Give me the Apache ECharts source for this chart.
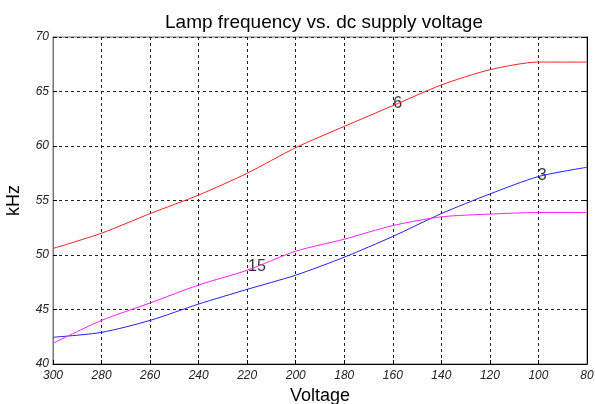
<!DOCTYPE html>
<html>
<head>
<meta charset="utf-8">
<script src="https://cdn.jsdelivr.net/npm/echarts@6/dist/echarts.min.js"></script>
<style>
  html, body { margin: 0; padding: 0; background: #fff; }
  #main { width: 595px; height: 404px; }
</style>
</head>
<body>
<div id="main"></div>
<script>
// voltage grid points (V)
var voltages = [300, 280, 260, 240, 220, 200, 180, 160, 140, 120, 100, 80];
// lamp frequency (kHz) for each curve
var curve6 = [50.6, 52.0, 53.8, 55.5, 57.5, 59.85, 61.8, 63.7, 65.6, 67.0, 67.7, 67.7];
var curve3 = [42.45, 42.9, 44.0, 45.5, 46.85, 48.15, 49.8, 51.7, 53.8, 55.6, 57.2, 58.05];
var curve15 = [41.9, 44.0, 45.6, 47.25, 48.6, 50.35, 51.45, 52.7, 53.5, 53.75, 53.9, 53.9];
// curve labels: [voltage, kHz, text]
var curveLabels = [[158, 63.9, "6"], [98.5, 57.3, "3"], [216, 48.9, "15"]];

function pairs(ys) {
  return voltages.map(function (v, i) { return [v, ys[i]]; });
}

var font = "Liberation Sans, Arial, sans-serif";
var chart = echarts.init(document.getElementById("main"));

var dashed = { color: "#222", type: [3, 3], width: 1 };

var option = {
  backgroundColor: "#fff",
  animation: false,
  title: {
    text: "Lamp frequency vs. dc supply voltage",
    left: 319,
    textAlign: "center",
    top: 8,
    textStyle: { fontFamily: font, fontSize: 19, fontWeight: "normal", color: "#000" }
  },
  grid: {
    left: 53, right: 8, top: 37, bottom: 40,
    outerBoundsMode: "none",
    containLabel: false,
    show: true, borderColor: "#777", borderWidth: 1
  },
  xAxis: {
    type: "value",
    inverse: true,
    min: 80, max: 300, interval: 20,
    name: "Voltage",
    nameLocation: "middle",
    nameGap: 21,
    nameTextStyle: { fontFamily: font, fontSize: 18, color: "#000" },
    axisLine: { show: true, lineStyle: { color: "#000" } },
    axisTick: { show: true, inside: true, length: 4, lineStyle: { color: "#000" } },
    axisLabel: { fontFamily: font, fontStyle: "italic", fontSize: 12, color: "#222", margin: 6 },
    splitLine: { show: true, lineStyle: dashed }
  },
  yAxis: [
    {
      type: "value",
      min: 40, max: 70, interval: 5,
      name: "kHz",
      nameLocation: "middle",
      nameGap: 30,
      nameTextStyle: { fontFamily: font, fontSize: 18, color: "#000" },
      axisLine: { show: true, lineStyle: { color: "#777" } },
      axisTick: { show: true, inside: true, length: 4, lineStyle: { color: "#000" } },
      axisLabel: { fontFamily: font, fontStyle: "italic", fontSize: 12, color: "#222", margin: 4 },
      splitLine: { show: true, lineStyle: dashed }
    },
    {
      type: "value",
      position: "right",
      min: 40, max: 70, interval: 5,
      axisLine: { show: true, lineStyle: { color: "#000" } },
      axisTick: { show: true, inside: true, length: 4, lineStyle: { color: "#000" } },
      axisLabel: { show: false },
      splitLine: { show: false }
    }
  ],
  series: [
    {
      type: "line", data: pairs(curve6), smooth: 0.25, showSymbol: false,
      lineStyle: { color: "#ff2020", width: 1 }
    },
    {
      type: "line", data: pairs(curve3), smooth: 0.25, showSymbol: false,
      lineStyle: { color: "#2020ff", width: 1 }
    },
    {
      type: "line", data: pairs(curve15), smooth: 0.25, showSymbol: false,
      lineStyle: { color: "#ff20ff", width: 1 }
    },
    {
      type: "scatter",
      symbolSize: 0,
      data: curveLabels.map(function (d) { return { value: [d[0], d[1]], name: d[2] }; }),
      label: {
        show: true, position: "inside",
        formatter: function (p) { return p.name; },
        fontFamily: font, fontSize: 16, color: "#000"
      }
    }
  ]
};

chart.setOption(option);
</script>
</body>
</html>
